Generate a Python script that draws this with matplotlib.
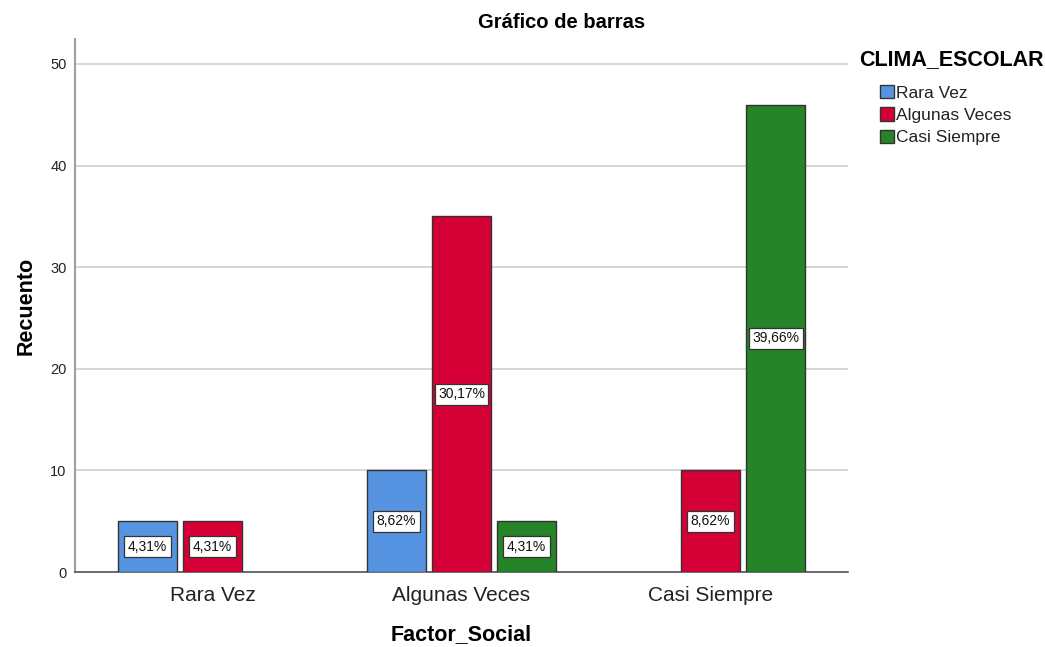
import matplotlib
matplotlib.use("Agg")
import matplotlib.pyplot as plt
import numpy as np
from matplotlib.patches import Patch

plt.rcParams["font.family"] = ["Liberation Sans", "DejaVu Sans"]

# data
categories = ["Rara Vez", "Algunas Veces", "Casi Siempre"]
series = ["Rara Vez", "Algunas Veces", "Casi Siempre"]
counts = {
    "Rara Vez":      [5, 10, 0],
    "Algunas Veces": [5, 35, 10],
    "Casi Siempre":  [0, 5, 46],
}
colours = {
    "Rara Vez": "#5694E2",
    "Algunas Veces": "#D50036",
    "Casi Siempre": "#258427",
}

total = sum(sum(v) for v in counts.values())

W, H = 1045, 647
fig = plt.figure(figsize=(W / 100, H / 100), dpi=100)
ax = fig.add_axes([75 / W, 1 - 572 / H, 773 / W, 533 / H])

x = np.arange(len(categories))
slot = 0.261
width = 0.237
for i, name in enumerate(series):
    vals = np.array(counts[name])
    pos = x + (i - 1) * slot
    mask = vals > 0
    ax.bar(pos[mask], vals[mask], width=width, color=colours[name],
           edgecolor="#333333", linewidth=1.0, zorder=3)
    for p, v in zip(pos[mask], vals[mask]):
        pct = f"{v / total * 100:.2f}%".replace(".", ",")
        ax.text(p, v / 2, pct, ha="center", va="center", fontsize=10,
                color="#111111", zorder=4,
                bbox=dict(boxstyle="square,pad=0.25", facecolor="white",
                          edgecolor="#333333", linewidth=0.9))

ax.set_xlim(-0.552, 2.552)
ax.set_ylim(0, 52.46)
ax.set_yticks([0, 10, 20, 30, 40, 50])
ax.set_xticks(x)
ax.set_xticklabels(categories, fontsize=15, color="#222222")
ax.tick_params(axis="x", length=0, pad=10)
ax.tick_params(axis="y", length=0, pad=6, labelsize=10.5, labelcolor="#222222")
ax.grid(axis="y", color="#D0D0D0", linewidth=1.2, zorder=0)

for s in ("top", "right"):
    ax.spines[s].set_visible(False)
ax.spines["left"].set_color("#A0A0A0")
ax.spines["left"].set_linewidth(1.5)
ax.spines["bottom"].set_color("#555555")
ax.spines["bottom"].set_linewidth(1.2)

ax.set_xlabel("Factor_Social", fontsize=15.5, fontweight="bold", labelpad=14)
ax.set_ylabel("Recuento", fontsize=15.5, fontweight="bold", labelpad=10)
fig.text(562 / W, 1 - 22 / H, "Gráfico de barras", ha="center", va="center",
         fontsize=14.5, fontweight="bold")

# legend: title drawn as text, entries via legend
fig.text(859 / W, 1 - 60 / H, "CLIMA_ESCOLAR", ha="left", va="center",
         fontsize=15.5, fontweight="bold")
handles = [Patch(facecolor=colours[n], edgecolor="#333333", label=n) for n in series]
leg = fig.legend(handles=handles, loc="upper left",
                 bbox_to_anchor=(880 / W, 1 - 85 / H), frameon=False,
                 fontsize=12.5, handlelength=0.8, handleheight=0.8,
                 handletextpad=0.15, labelspacing=0.38, borderpad=0,
                 borderaxespad=0)
for t in leg.get_texts():
    t.set_color("#222222")

fig.savefig("out.png", dpi=100, facecolor="white")
